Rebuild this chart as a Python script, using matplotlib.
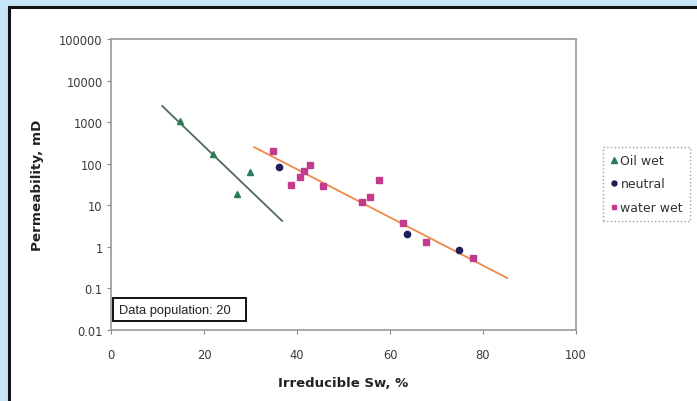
import numpy as np
import matplotlib
matplotlib.use("Agg")
import matplotlib.pyplot as plt
from matplotlib.patches import Rectangle

plt.rcParams['font.family'] = ['DejaVu Sans']

# Data
oil_sw = [14.8, 21.9, 27.1, 29.9]
oil_k = [1070, 171, 19, 63]

neutral_sw = [36.1, 63.7, 74.8]
neutral_k = [84, 2.0, 0.84]

water_sw = [34.8, 38.7, 40.6, 41.5, 42.8, 45.6, 54.0, 55.7, 57.6, 62.8, 67.7, 77.8]
water_k = [204, 31, 48, 66, 94, 29, 12, 16, 41, 3.75, 1.31, 0.54]

# trend line end points (exponential fits as drawn)
oil_trend_sw = [11.0, 36.8]
oil_trend_k = [2450, 4.2]
water_trend_sw = [30.8, 85.2]
water_trend_k = [250, 0.178]

x_ticks = [0, 20, 40, 60, 80, 100]
y_ticks = [0.01, 0.1, 1, 10, 100, 1000, 10000, 100000]
y_tick_labels = ['0.01', '0.1', '1', '10', '100', '1000', '10000', '100000']

W, H = 697, 402
fig = plt.figure(figsize=(W / 100, H / 100), dpi=100, facecolor='#c6e6f6')

# white panel with black border (runs off right and bottom edges)
fig.add_artist(Rectangle((9 / W, -0.1), 1.0, 1 - 8 / H + 0.1, transform=fig.transFigure,
                         facecolor='white', edgecolor='#111111', linewidth=2.2, zorder=-5))

ax = fig.add_axes([111 / W, 1 - 331 / H, (576 - 111) / W, (331 - 40) / H])
ax.set_facecolor('white')

ax.plot(oil_trend_sw, oil_trend_k, color='#4f6b58', lw=1.3, zorder=2)
ax.plot(water_trend_sw, water_trend_k, color='#f0884a', lw=1.3, zorder=2)

ax.plot(oil_sw, oil_k, '^', color='#2a7d57', ms=5, ls='none', label='Oil wet', zorder=3)
ax.plot(neutral_sw, neutral_k, 'o', color='#1c1f5c', ms=4.5, ls='none', label='neutral', zorder=3)
ax.plot(water_sw, water_k, 's', color='#c43a8e', ms=4.2, ls='none', label='water wet', zorder=3)

ax.set_yscale('log')
ax.set_xlim(0, 100)
ax.set_ylim(0.01, 100000)
ax.set_xticks(x_ticks)
ax.set_yticks(y_ticks)
ax.set_yticklabels(y_tick_labels)
ax.minorticks_off()
ax.tick_params(axis='both', direction='out', length=3, width=0.8, color='#888888',
               labelsize=8.3, labelcolor='#3a3a3a', pad=3)
ax.tick_params(axis='x', pad=10)
for s in ax.spines.values():
    s.set_color('#999999')
    s.set_linewidth(1.2)

ax.set_xlabel('Irreducible Sw, %', fontsize=9.5, fontweight='bold', color='#222222', labelpad=11)
ax.set_ylabel('Permeability, mD', fontsize=9.7, fontweight='bold', color='#222222', labelpad=11)

leg = fig.legend(loc='upper left', bbox_to_anchor=(603 / W, 1 - 148 / H), fontsize=9,
                 frameon=True, fancybox=False, edgecolor='#888888', handlelength=0.6,
                 handletextpad=0.25, borderpad=0.55, labelspacing=0.85, borderaxespad=0,
                 markerscale=0.8)
leg.get_frame().set_linestyle(':')
leg.get_frame().set_linewidth(1.0)
for t in leg.get_texts():
    t.set_color('#333333')

# "Data population" box
fig.add_artist(Rectangle((113 / W, 1 - 322 / H), 133 / W, 23 / H, transform=fig.transFigure,
                         facecolor='white', edgecolor='#111111', linewidth=1.4, zorder=5))
fig.text(119 / W, 1 - 311 / H, 'Data population: 20', fontsize=9.3,
         family=['Liberation Sans', 'DejaVu Sans'],
         va='center', ha='left', color='#222222', zorder=6)

fig.savefig('out.png', dpi=100, facecolor=fig.get_facecolor())
